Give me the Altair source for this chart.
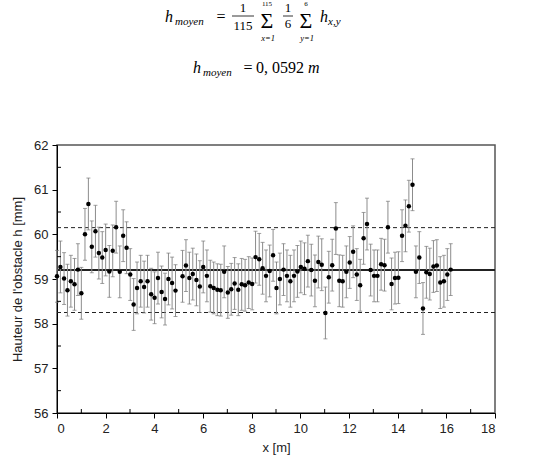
import altair as alt
import pandas as pd

# ---- data ----
x_m = [0.00, 0.14, 0.29, 0.43, 0.57, 0.72, 0.86, 1.00, 1.15, 1.29,
       1.43, 1.58, 1.72, 1.86, 2.00, 2.15, 2.29, 2.43, 2.58, 2.72,
       2.86, 3.01, 3.15, 3.29, 3.44, 3.58, 3.72, 3.87, 4.01, 4.15,
       4.30, 4.44, 4.58, 4.73, 4.87, 5.16, 5.30, 5.44, 5.58,
       5.73, 5.87, 6.01, 6.16, 6.30, 6.44, 6.59, 6.73, 6.87, 7.02,
       7.16, 7.30, 7.45, 7.59, 7.73, 7.88, 8.02, 8.16, 8.31, 8.45,
       8.59, 8.74, 8.88, 9.02, 9.16, 9.31, 9.45, 9.59, 9.74, 9.88,
       10.02, 10.17, 10.31, 10.45, 10.60, 10.74, 10.88, 11.03, 11.17, 11.31,
       11.46, 11.60, 11.74, 11.89, 12.03, 12.17, 12.32, 12.46, 12.60, 12.74,
       12.89, 13.03, 13.17, 13.32, 13.46, 13.60, 13.75, 13.89, 14.03, 14.18,
       14.32, 14.46, 14.61, 14.75, 14.89, 15.04, 15.18, 15.32, 15.47, 15.61,
       15.75, 15.90, 16.04, 16.18]
h_mm = [59.06, 59.27, 59.01, 58.75, 58.95, 58.88, 59.21, 58.68, 60.00, 60.68,
        59.72, 60.07, 59.58, 59.48, 59.65, 59.17, 59.63, 60.16, 59.16, 59.97,
        59.70, 59.10, 58.43, 58.80, 58.95, 58.82, 58.95, 58.66, 58.58, 59.02,
        58.71, 58.55, 59.00, 58.91, 58.74, 59.06, 59.30, 59.02, 59.11,
        58.98, 58.83, 59.27, 59.07, 58.84, 58.80, 58.76, 58.75, 59.16, 58.70,
        58.77, 58.90, 58.76, 58.88, 58.86, 58.92, 58.89, 59.49, 59.44, 59.24,
        59.07, 59.18, 59.53, 58.80, 59.00, 59.21, 59.07, 58.95, 59.07, 59.17,
        59.27, 59.23, 59.40, 59.20, 58.96, 59.38, 59.32, 58.24, 59.04, 59.31,
        60.13, 58.96, 58.95, 59.16, 59.37, 59.61, 59.10, 58.86, 59.91, 60.23,
        59.20, 59.07, 59.07, 59.33, 59.31, 60.16, 58.89, 59.02, 59.03, 59.97,
        60.19, 60.63, 61.11, 59.16, 59.48, 58.34, 59.15, 59.11, 59.28, 59.30,
        58.92, 58.95, 59.10, 59.21]
err_mm = 0.58
mean_mm = 59.2
band_mm = [60.15, 58.25]
y_minor = [56.5, 57.5, 58.5, 59.5, 60.5, 61.5]
x_minor = [1, 3, 5, 7, 9, 11, 13, 15, 17]

df = pd.DataFrame({"x": x_m, "h": h_mm})
df["lo"] = df["h"] - err_mm
df["hi"] = df["h"] + err_mm

W, H = 438, 268
L, T = 57, 145

xs = alt.Scale(domain=[0, 18], nice=False)
ys = alt.Scale(domain=[56, 62], nice=False)
X = alt.X("x:Q", scale=xs, title="x [m]",
          axis=alt.Axis(values=list(range(0, 19, 2)), format="d", titlePadding=6))
Y = alt.Y("h:Q", scale=ys, title="Hauteur de l'obstacle  h [mm]",
          axis=alt.Axis(values=list(range(56, 63)), format="d", titlePadding=9))

base = alt.Chart(df)
bars = base.mark_rule(color="#8c8c8c", strokeWidth=1).encode(x=X, y=alt.Y("lo:Q", scale=ys), y2="hi:Q")
cap_lo = base.mark_tick(orient="horizontal", size=4, thickness=1, color="#777").encode(x=X, y=alt.Y("lo:Q", scale=ys))
cap_hi = base.mark_tick(orient="horizontal", size=4, thickness=1, color="#777").encode(x=X, y=alt.Y("hi:Q", scale=ys))
pts = base.mark_circle(size=20, color="black", opacity=1).encode(x=X, y=Y)

mean_line = alt.Chart(pd.DataFrame({"m": [mean_mm]})).mark_rule(color="#222", strokeWidth=2).encode(
    y=alt.Y("m:Q", scale=ys))
band_lines = alt.Chart(pd.DataFrame({"b": band_mm})).mark_rule(
    color="#222", strokeWidth=1, strokeDash=[4, 3]).encode(y=alt.Y("b:Q", scale=ys))

ymin = alt.Chart(pd.DataFrame({"v": y_minor})).mark_rule(color="black").encode(
    y=alt.Y("v:Q", scale=ys), x=alt.value(0), x2=alt.value(4))
xmin = alt.Chart(pd.DataFrame({"v": x_minor})).mark_rule(color="black").encode(
    x=alt.X("v:Q", scale=xs), y=alt.value(H), y2=alt.value(H - 4))

one = pd.DataFrame({"a": [0]})


def txt(s, px, base_y, size, italic=False, align="left"):
    return alt.Chart(one).mark_text(
        text=s, align=align, baseline="alphabetic", fontSize=size,
        font="Liberation Serif", fontStyle="italic" if italic else "normal",
        color="black").encode(x=alt.value(px - L), y=alt.value(base_y - T))


def hbar(x1, x2, py):
    return alt.Chart(one).mark_rule(color="black", strokeWidth=0.8).encode(
        x=alt.value(x1 - L), x2=alt.value(x2 - L), y=alt.value(py - T))


formula = [
    txt("h", 165, 22, 16, True), txt("moyen", 175, 25, 11, True),
    txt("=", 221, 22, 16, False, "center"),
    txt("1", 243, 12, 13, False, "center"), hbar(232, 254, 16), txt("115", 243, 30, 13, False, "center"),
    txt("115", 267, 6, 7, False, "center"), txt("Σ", 267, 28, 22, False, "center"),
    txt("x=1", 268, 41, 8.5, True, "center"),
    txt("1", 288, 12, 13, False, "center"), hbar(283, 293, 16), txt("6", 288, 28, 13, False, "center"),
    txt("6", 306, 6, 7, False, "center"), txt("Σ", 306, 28, 22, False, "center"),
    txt("y=1", 307, 41, 8.5, True, "center"),
    txt("h", 320, 22, 16, True), txt("x,y", 328, 25, 11, True),
    txt("h", 193, 73, 16, True), txt("moyen", 203, 76, 11, True),
    txt("=", 248, 73, 16, False, "center"),
    txt("0, 0592", 256, 73, 16), txt("m", 308, 73, 16, True),
]

chart = alt.layer(
    band_lines, mean_line, bars, cap_lo, cap_hi, pts, ymin, xmin, *formula
).properties(
    width=W, height=H,
    autosize=alt.AutoSizeParams(type="none"),
    padding={"left": L, "top": T, "right": 543 - L - W, "bottom": 460 - T - H},
).configure_view(
    stroke="#555", strokeWidth=1.5
).configure_axis(
    grid=False, domainColor="black", tickColor="black", tickSize=5,
    labelFont="Liberation Sans", labelFontSize=13, labelColor="#222",
    titleFont="Liberation Sans", titleFontSize=13, titleFontWeight="normal", titleColor="#222",
    labelPadding=4,
)

chart.save("out.html", embed_options={"renderer": "svg", "actions": False})
